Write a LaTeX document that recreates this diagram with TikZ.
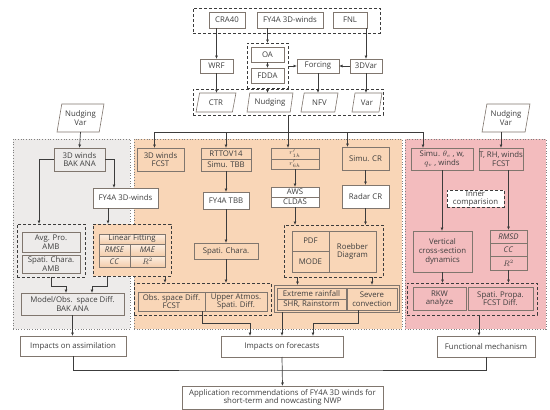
\documentclass[tikz,border=0pt]{standalone}
\usepackage{fontspec}
\setmainfont{Open Sans}
\usetikzlibrary{arrows.meta,shapes.geometric}
\definecolor{assimgray}{RGB}{237,235,234}
\definecolor{fcstpeach}{RGB}{249,214,183}
\definecolor{mechpink}{RGB}{243,188,190}
\definecolor{edgebrown}{RGB}{128,118,110}
\definecolor{linegray}{RGB}{60,60,60}
\definecolor{textgray}{RGB}{62,62,62}
% box given by its corners (x1,y1) and (x2,y2)
\newcommand{\boxat}[7]{%
  \node[#1,minimum width={(#5)-(#3)},minimum height={(#6)-(#4)}]
    (#2) at ({(#3+#5)/2},{(#4+#6)/2}) {#7};%
}

\begin{document}
\begin{tikzpicture}[x=1pt,y=-1pt,
  font=\fontsize{7.8}{8.6}\selectfont,text=textgray,
  cell/.style={draw=edgebrown,line width=0.6pt,inner sep=0pt,outer sep=0pt,align=center},
  whitecell/.style={cell,fill=white},
  graycell/.style={cell,fill=assimgray},
  peachcell/.style={cell,fill=fcstpeach},
  shadecell/.style={cell,top color=fcstpeach!40,bottom color=fcstpeach!90!brown},
  pinkcell/.style={cell,fill=mechpink},
  smallcell/.style={peachcell,font=\fontsize{6}{6}\selectfont},
  grpbox/.style={draw=linegray,line width=0.9pt,dash pattern=on 3pt off 2pt,inner sep=0pt,outer sep=0pt,align=center},
  region/.style={draw=gray,line width=0.7pt,dotted,inner sep=0pt,outer sep=0pt},
  inputpar/.style={whitecell,trapezium,trapezium left angle=75,trapezium right angle=105,trapezium stretches=true},
  arr/.style={draw=linegray,line width=0.7pt,-{Latex[length=3.5pt,width=3pt]}},
  conn/.style={draw=linegray,line width=0.7pt}]
  \useasboundingbox (0,0) rectangle (550,410);

  % regions
  \boxat{region,fill=assimgray}{assimreg}{13}{139}{130}{329}{}
  \boxat{region,fill=fcstpeach}{fcstreg}{134}{139}{402}{329}{}
  \boxat{region,fill=mechpink}{mechreg}{405}{139}{546}{329}{}

  % model inputs and runs
  \boxat{grpbox}{topgrp}{193}{8}{380}{33}{}
  \boxat{whitecell}{cra}{209}{12}{245}{28}{CRA40}
  \boxat{whitecell}{fywind}{257}{12}{323}{28}{FY4A 3D-winds}
  \boxat{whitecell}{fnl}{333}{12}{367}{28}{FNL}
  \boxat{whitecell}{wrf}{200}{59}{233}{73}{WRF}
  \boxat{grpbox}{oagrp}{247}{43}{288}{88}{}
  \boxat{whitecell}{oa}{251}{47}{284}{62}{OA}
  \boxat{whitecell}{fdda}{251}{68}{284}{83}{FDDA}
  \boxat{whitecell}{forcing}{297}{59}{339}{73}{Forcing}
  \boxat{whitecell}{tdvar}{350}{59}{382}{73}{3DVar}
  \boxat{grpbox}{pargrp}{193}{89}{383}{115}{}
  \boxat{inputpar}{ctr}{196}{93}{236}{112}{CTR}
  \boxat{inputpar}{nudg}{247}{93}{293}{112}{Nudging}
  \boxat{inputpar}{nfv}{301}{93}{338}{112}{NFV}
  \boxat{inputpar}{var}{352}{93}{382}{112}{Var}

  \draw[arr] (cra.south -| wrf.north) -- (wrf.north);
  \draw[arr] (wrf.south) -- (wrf.south |- ctr.north);
  \draw[arr] (fywind.south -| oagrp.north) -- (oagrp.north);
  \draw[arr] (oa) -- (fdda);
  \draw[arr] (oagrp.south) -- (oagrp.south |- nudg.north);
  \draw[arr] (oagrp.east |- forcing) -- (forcing.west);
  \draw[arr] (tdvar.west) -- (forcing.east);
  \draw[arr] (fnl.south -| tdvar.north) -- (tdvar.north);
  \draw[arr] (forcing.south) -- (forcing.south |- nfv.north);
  \draw[arr] (tdvar.south) -- (tdvar.south |- var.north);

  % assimilation
  \boxat{inputpar}{nvleft}{57}{104}{104}{132}{Nudging\\Var}
  \boxat{graycell}{bakana}{54}{148}{105}{171}{3D winds\\BAK ANA}
  \boxat{whitecell}{fywindb}{93}{188}{158}{208}{FY4A 3D-winds}
  \boxat{grpbox}{ambgrp}{17}{224}{85}{277}{}
  \boxat{graycell}{avgpro}{22}{232}{80}{252}{Avg. Pro.\\AMB}
  \boxat{graycell}{spatamb}{22}{255}{80}{273}{Spati. Chara.\\AMB}
  \boxat{grpbox,fill=fcstpeach}{fitgrp}{93}{224}{171}{276}{}
  \boxat{shadecell}{fithead}{99}{234}{165}{244}{Linear Fitting}
  \boxat{shadecell}{rmse}{99}{244}{130}{256}{\textit{RMSE}}
  \boxat{shadecell}{mae}{130}{244}{165}{256}{\textit{MAE}}
  \boxat{shadecell}{ccfit}{99}{256}{130}{267}{\textit{CC}}
  \boxat{shadecell}{rsqfit}{130}{256}{165}{267}{$R^2$}
  \boxat{graycell}{modelobs}{21}{293}{124}{315}{Model/Obs.\ \ space Diff.\\BAK ANA}
  \boxat{whitecell}{assim}{20}{336}{126}{356}{Impacts on assimilation}

  \draw[arr] (nvleft.south) -- (bakana.north);
  \draw[arr] (bakana.east) -| ([xshift=-11.5pt]fywindb.north);
  \draw[arr] (bakana.west) -| ([xshift=-12pt]ambgrp.north);
  \draw[arr] ([xshift=-17.5pt]fywindb.south) -- ([xshift=-17.5pt]fywindb.south |- fitgrp.north);
  \draw[arr] (ambgrp.south) -- ++(0,9) -| ([xshift=-6.5pt]modelobs.north);
  \draw[arr] ([xshift=-25pt]fitgrp.south) -- ++(0,10) -| ([xshift=19.5pt]modelobs.north);
  \draw[arr] (modelobs.south) -- (modelobs.south |- assim.north);

  % forecasts
  \boxat{peachcell}{fcstw}{137}{148}{184}{171}{3D winds\\FCST}
  \boxat{peachcell}{rttov}{201}{148}{251}{159}{RTTOV14}
  \boxat{peachcell}{simtbb}{201}{159}{251}{171}{Simu. TBB}
  \boxat{whitecell}{fytbb}{203}{192}{249}{209}{FY4A TBB}
  \boxat{peachcell}{spchara}{194}{243}{258}{259}{Spati. Chara.}
  \boxat{grpbox}{diffgrp}{134}{283}{271}{315}{}
  \boxat{peachcell}{obsdiff}{138}{292}{205}{311}{Obs. space Diff.\\FCST}
  \boxat{peachcell}{upperdiff}{205}{292}{267}{311}{Upper Atmos.\\Spati. Diff.}
  \boxat{smallcell}{rone}{271}{148}{319}{159}{$r'_{1h}$}
  \boxat{smallcell}{rsix}{271}{159}{319}{169}{$r'_{6h}$}
  \boxat{whitecell}{aws}{271}{187}{319}{197}{AWS}
  \boxat{whitecell}{cldas}{271}{197}{319}{207}{CLDAS}
  \boxat{peachcell}{simcr}{342}{147}{389}{170}{Simu. CR}
  \boxat{whitecell}{radcr}{342}{185}{389}{208}{Radar CR}
  \boxat{grpbox}{pdfgrp}{284}{225}{383}{277}{}
  \boxat{peachcell}{pdf}{292}{231}{329}{251}{PDF}
  \boxat{peachcell}{mode}{292}{251}{329}{272}{MODE}
  \boxat{peachcell}{roebber}{329}{231}{376}{272}{Roebber\\Diagram}
  \boxat{peachcell}{rainbox}{274}{285}{399}{312}{}
  \boxat{peachcell}{extreme}{277}{288}{346}{299}{Extreme rainfall}
  \boxat{peachcell}{shr}{277}{299}{346}{310}{SHR, Rainstorm}
  \boxat{peachcell}{severe}{347}{288}{397}{310}{Severe\\convection}
  \boxat{whitecell}{fcstimp}{221}{336}{343}{357}{Impacts on forecasts}

  \coordinate (hub) at ([yshift=-17pt]pargrp.south);
  \draw[conn] (pargrp.south) -- (hub);
  \draw[arr] (hub) -- (hub |- rone.north);
  \draw[arr] (hub) -| ([xshift=-6pt]fcstw.north);
  \draw[arr] (hub) -| (rttov.north);
  \draw[arr] (hub) -| ([xshift=-18pt]simcr.north);
  \draw[arr] (simtbb.south) -- (fytbb.north);
  \draw[arr] (fytbb.south) -- (fytbb.south |- spchara.north);
  \draw[arr] (spchara.south) -- (spchara.south |- diffgrp.north);
  \draw[arr] ([xshift=33pt]fitgrp.south) -- ([xshift=33pt]fitgrp.south |- diffgrp.north);
  \draw[arr] (rsix.south) -- (aws.north);
  \draw[arr] (cldas.south) -- (cldas.south |- pdfgrp.north);
  \draw[arr] (simcr.south) -- (radcr.north);
  \draw[arr] (radcr.south) -- (radcr.south |- pdfgrp.north);
  \draw[arr] ([xshift=-36pt]pdfgrp.south) -- ([xshift=-36pt]pdfgrp.south |- rainbox.north);
  \draw[arr] (pdfgrp.south -| severe.north) -- (severe.north |- rainbox.north);
  \draw[arr] ([xshift=-3pt]upperdiff.south west) -- ++(0,12) -| ([xshift=-32pt]fcstimp.north);
  \draw[arr] (rainbox.south -| fcstimp.north) -- (fcstimp.north);
  \draw[arr] ([xshift=-14pt]severe.south) -- ++(0,13) -| ([xshift=31pt]fcstimp.north);

  % mechanism
  \boxat{inputpar}{nvright}{482}{104}{530}{132}{Nudging\\Var}
  \boxat{pinkcell}{simtheta}{411}{148}{473}{170}{Simu. $\theta_e$ , w,\\$q_v$ , winds}
  \boxat{pinkcell}{trh}{480}{148}{522}{170}{T, RH, winds\\FCST}
  \boxat{grpbox,fill=white}{inner}{447}{190}{504}{207}{Inner\\comparision}
  \boxat{pinkcell}{vcross}{413}{231}{472}{272}{Vertical\\cross-section\\dynamics}
  \boxat{pinkcell}{rmsd}{490}{230}{527}{243.3}{\textit{RMSD}}
  \boxat{pinkcell}{ccmech}{490}{243.3}{527}{256.7}{\textit{CC}}
  \boxat{pinkcell}{rsqmech}{490}{256.7}{527}{270}{$R^2$}
  \boxat{grpbox}{mechgrp}{407}{283}{537}{315}{}
  \boxat{pinkcell}{rkw}{413}{287}{466}{310}{RKW\\analyze}
  \boxat{pinkcell}{spropa}{468}{287}{533}{310}{Spati. Propa.\\FCST Diff.}
  \boxat{whitecell}{funcmech}{437}{336}{535}{357}{Functional mechanism}

  \draw[arr] (hub) -| ([xshift=-19pt]simtheta.north);
  \draw[arr] (nvright.south -| trh.north) -- (trh.north);
  \draw[arr] (simtheta.south) -- (simtheta.south |- vcross.north);
  \draw[arr] (trh.south -| rmsd.north) -- (rmsd.north);
  \draw[arr] (vcross.south) -- (vcross.south |- mechgrp.north);
  \draw[arr] (rsqmech.south) -- (rsqmech.south |- mechgrp.north);
  \draw[arr] ([xshift=7pt]mechgrp.south) -- ([xshift=7pt]mechgrp.south |- funcmech.north);

  % recommendation
  \boxat{whitecell}{app}{182}{386}{383}{409}{Application recommendations of FY4A 3D winds for\\short-term and nowcasting NWP}
  \draw[conn] (assim.south) |- ([yshift=-13pt]fcstimp.south) -| (funcmech.south);
  \draw[arr] (fcstimp.south) -- (app.north);
\end{tikzpicture}
\end{document}
